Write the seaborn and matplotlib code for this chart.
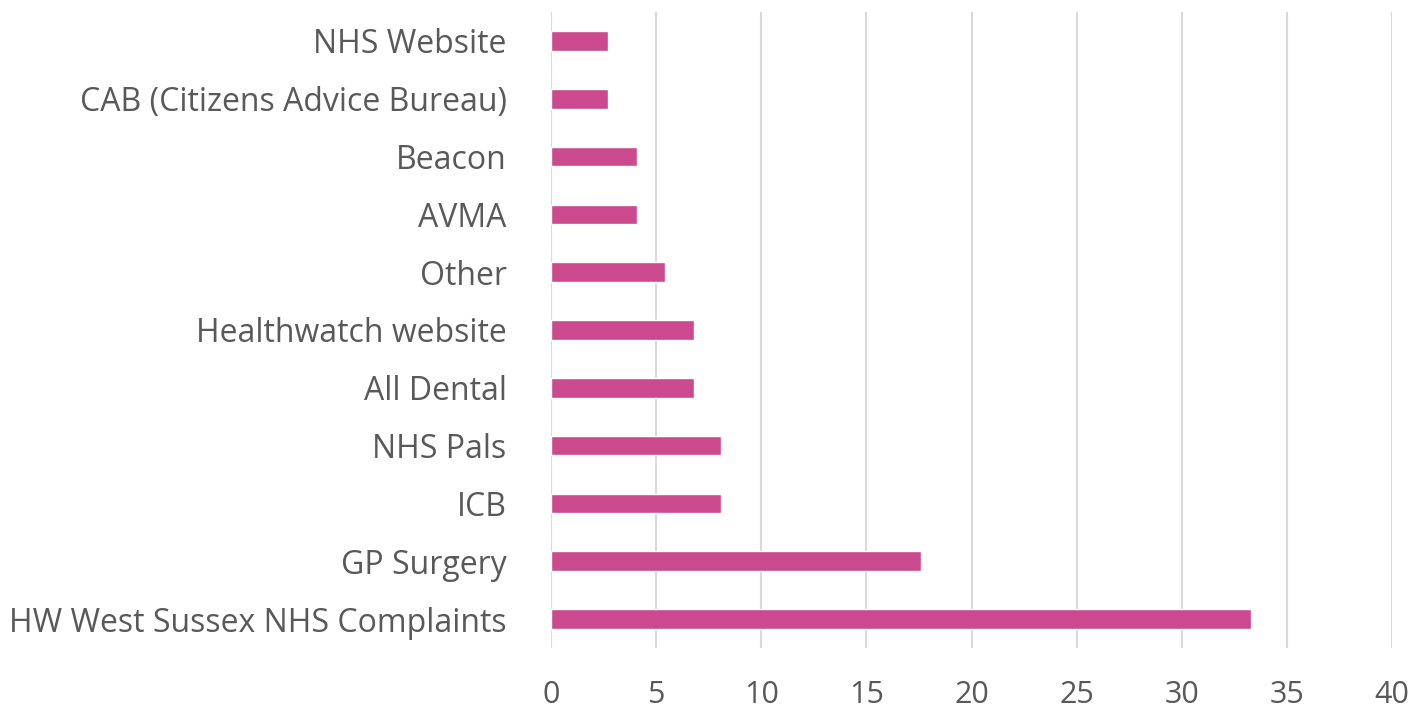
import matplotlib
matplotlib.use("Agg")
import matplotlib.pyplot as plt
import seaborn as sns
import pandas as pd

categories = ["NHS Website", "CAB (Citizens Advice Bureau)", "Beacon", "AVMA", "Other",
              "Healthwatch website", "All Dental", "NHS Pals", "ICB", "GP Surgery",
              "HW West Sussex NHS Complaints"]
values = [2.7, 2.7, 4.1, 4.1, 5.4, 6.8, 6.8, 8.1, 8.1, 17.6, 33.3]
xticks = [0, 5, 10, 15, 20, 25, 30, 35, 40]

sns.set_style("white")
plt.rcParams['font.family'] = ['Open Sans', 'DejaVu Sans']

df = pd.DataFrame({"cat": categories, "val": values})

fig = plt.figure(figsize=(14.13, 7.1), dpi=100)
ax = fig.add_axes([551/1413, 1 - 648/710, (1392 - 551)/1413, (648 - 12)/710])
sns.barplot(data=df, x="val", y="cat", order=categories, color="#CB4A8D",
            width=0.34, ax=ax, saturation=1)

ax.set_xlim(0, 40)
ax.set_ylim(10.5, -0.5)
ax.set_xticks(xticks)
ax.set_xticklabels([str(t) for t in xticks])
ax.xaxis.grid(True, color="#D9D9D9", linewidth=1.5)
ax.set_axisbelow(True)
for s in ax.spines.values():
    s.set_visible(False)
ax.tick_params(axis="both", length=0, colors="#595959")
ax.tick_params(axis="x", pad=23, labelsize=22)
ax.tick_params(axis="y", pad=32, labelsize=23)
ax.set_xlabel("")
ax.set_ylabel("")

fig.savefig("out.png", dpi=100, facecolor="white")
